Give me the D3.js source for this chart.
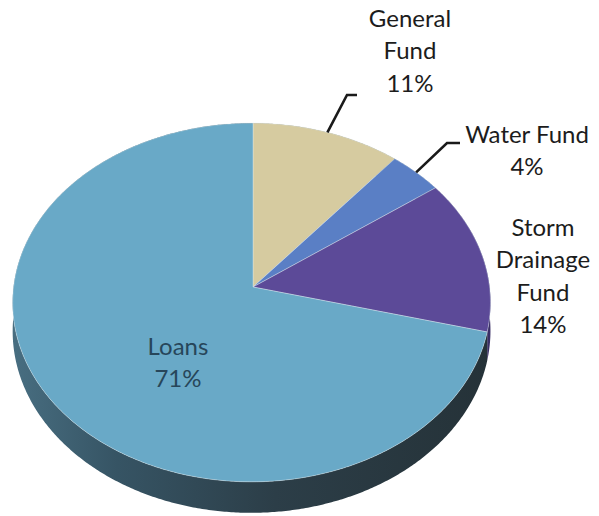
<!DOCTYPE html>
<html>
<head>
<meta charset="utf-8">
<script src="https://cdn.jsdelivr.net/npm/d3@7"></script>
<style>
  html, body { margin: 0; padding: 0; background: #ffffff; }
  svg { display: block; }
</style>
</head>
<body>
<svg id="chart" width="599" height="516"></svg>
<script>
// Funding sources, in percent of total
const categories = ["General Fund", "Water Fund", "Storm Drainage Fund", "Loans"];
const shares = [11, 4, 14, 71];
const labelLines = [["General", "Fund"], ["Water Fund"], ["Storm", "Drainage", "Fund"], ["Loans"]];

// Face colours of the pie
const topColors = ["#d6cba0", "#5a7fc5", "#5c4a98", "#69a9c7"];
const sideColors = ["#8d8468", "#3b5486", "#3a2f66", "url(#loanSide)"];

const svg = d3.select("#chart");

// 3D pie projection: disc tilted away from the viewer with mild perspective
const geo = { cx: 253, cy: 287, rx: 238, ry: 178, persp: 0.0864, skew: 0.006, depth: 28.3 };
function project(theta, drop) {
  const u = Math.sin(theta), v = -Math.cos(theta);
  const w = 1 - geo.persp * v + geo.skew * u;
  return [geo.cx + geo.rx * u / w, geo.cy + (geo.ry * v + (drop || 0)) / w];
}
function arcPoints(a0, a1, drop) {
  const n = Math.max(2, Math.ceil(Math.abs(a1 - a0) / (Math.PI / 360)));
  return d3.range(n + 1).map(i => project(a0 + (a1 - a0) * i / n, drop));
}

const arcs = d3.pie().sort(null).value(d => d)(shares);
const line = d3.line();

// Side gradient for the large slice
const defs = svg.append("defs");
const grad = defs.append("linearGradient")
  .attr("id", "loanSide").attr("gradientUnits", "userSpaceOnUse")
  .attr("x1", 12).attr("y1", 0).attr("x2", 490).attr("y2", 0);
grad.append("stop").attr("offset", 0).attr("stop-color", "#486e81");
grad.append("stop").attr("offset", 0.22).attr("stop-color", "#365464");
grad.append("stop").attr("offset", 0.55).attr("stop-color", "#2c3e48");
grad.append("stop").attr("offset", 1).attr("stop-color", "#253238");

// Side walls
svg.append("g").selectAll("path")
  .data(arcs)
  .join("path")
  .attr("d", d => {
    const top = arcPoints(d.startAngle, d.endAngle, 0);
    const bot = arcPoints(d.endAngle, d.startAngle, geo.depth);
    return line(top.concat(bot)) + "Z";
  })
  .attr("fill", (d, i) => sideColors[i]);

// Top faces
const center = project(0, 0);
center[0] = geo.cx; center[1] = geo.cy;
svg.append("g").selectAll("path")
  .data(arcs)
  .join("path")
  .attr("d", d => line([center].concat(arcPoints(d.startAngle, d.endAngle, 0))) + "Z")
  .attr("fill", (d, i) => topColors[i])
  .attr("stroke", "#dfeaf0")
  .attr("stroke-opacity", 0.5)
  .attr("stroke-width", 0.8)
  .attr("stroke-linejoin", "round");

// Label layout: text centre, first baseline, optional leader elbow
const labelLayout = [
  { x: 410, y: 27, elbow: [347, 95], end: [357, 95] },
  { x: 527, y: 143, elbow: [447, 143], end: [460, 143] },
  { x: 543, y: 236 },
  { x: 178, y: 355 }
];
const lineHeight = 32.4;

// Leader lines
arcs.forEach((d, i) => {
  const L = labelLayout[i];
  if (!L.elbow) return;
  const mid = (d.startAngle + d.endAngle) / 2;
  const start = project(mid, 0);
  svg.append("path")
    .attr("d", line([start, L.elbow, L.end]))
    .attr("fill", "none")
    .attr("stroke", "#1a1a1a")
    .attr("stroke-width", 2.6)
    .attr("stroke-linejoin", "miter");
});

// Labels
const labels = svg.append("g")
  .attr("font-family", "Lato, 'Open Sans', sans-serif")
  .attr("font-size", 24)
  .attr("text-anchor", "middle");
arcs.forEach((d, i) => {
  const L = labelLayout[i];
  const lines = labelLines[i].concat([shares[i] + "%"]);
  const t = labels.append("text")
    .attr("fill", i === 3 ? "#27465a" : "#1c1c1c");
  lines.forEach((s, j) => {
    t.append("tspan").attr("x", L.x).attr("y", L.y + j * lineHeight).text(s);
  });
});
</script>
</body>
</html>
